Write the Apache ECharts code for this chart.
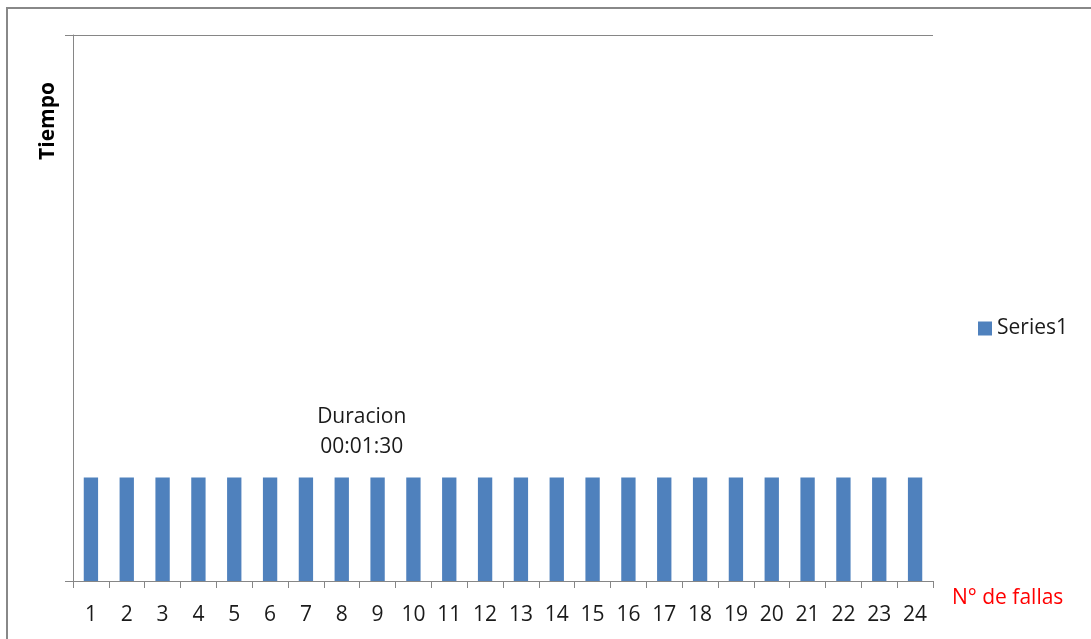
<!DOCTYPE html>
<html>
<head>
<meta charset="utf-8">
<script src="https://cdn.jsdelivr.net/npm/echarts@6/dist/echarts.min.js"></script>
<style>
  html, body { margin: 0; padding: 0; background: #fff; }
  #chart { width: 1091px; height: 639px; }
</style>
</head>
<body>
<div id="chart"></div>
<script>
// Fault number on the x axis, duration (seconds) on the y axis
const categories = ['1','2','3','4','5','6','7','8','9','10','11','12','13','14','15','16','17','18','19','20','21','22','23','24'];
const durations = [90,90,90,90,90,90,90,90,90,90,90,90,90,90,90,90,90,90,90,90,90,90,90,90];
const seriesName = 'Series1';
const labelledIndex = 7;
const axisMax = 475;

const FONT = '"Open Sans", sans-serif';
const FS = 21;

function toClock(sec) {
  const h = Math.floor(sec / 3600), m = Math.floor((sec % 3600) / 60), s = sec % 60;
  const p = n => String(n).padStart(2, '0');
  return p(h) + ':' + p(m) + ':' + p(s);
}

const barData = durations.map((v, i) => {
  if (i !== labelledIndex) return v;
  return {
    value: v,
    label: {
      show: true,
      position: 'top',
      distance: 16,
      offset: [20, 0],
      formatter: p => 'Duracion\n' + toClock(p.value),
      fontFamily: FONT,
      fontSize: FS,
      lineHeight: 30,
      color: '#1a1a1a'
    }
  };
});

const chart = echarts.init(document.getElementById('chart'));
chart.setOption({
  animation: false,
  grid: { left: 73, top: 35, right: 158, bottom: 58 },
  legend: {
    orient: 'vertical',
    left: 973,
    top: 313,
    itemWidth: 14,
    itemHeight: 14,
    itemGap: 6,
    icon: 'rect',
    textStyle: { fontFamily: FONT, fontSize: FS, color: '#1a1a1a' },
    data: [seriesName]
  },
  xAxis: {
    type: 'category',
    data: categories,
    name: 'N° de fallas',
    nameLocation: 'end',
    nameGap: 19,
    nameTextStyle: { fontFamily: FONT, fontSize: FS, color: '#ff0000', verticalAlign: 'top', padding: [7, 0, 0, 0] },
    axisLine: { lineStyle: { color: '#868686', width: 1 } },
    axisTick: { show: true, length: 7, lineStyle: { color: '#868686' } },
    axisLabel: { fontFamily: FONT, fontSize: FS, color: '#1a1a1a', margin: 24, interval: 0 }
  },
  yAxis: {
    type: 'value',
    min: 0,
    max: axisMax,
    interval: axisMax,
    axisLine: { show: true, lineStyle: { color: '#868686', width: 1 } },
    axisTick: { show: true, length: 8, lineStyle: { color: '#868686' } },
    axisLabel: { show: false },
    splitLine: { show: true, lineStyle: { color: '#868686', width: 1 } }
  },
  graphic: [
    {
      type: 'rect',
      shape: { x: 7, y: 8, width: 1300, height: 1000 },
      style: { fill: 'none', stroke: '#888888', lineWidth: 2 },
      silent: true
    },
    {
      type: 'text',
      x: 48,
      y: 121,
      rotation: Math.PI / 2,
      style: {
        text: 'Tiempo',
        fontFamily: FONT,
        fontSize: FS,
        fontWeight: 'bold',
        fill: '#000',
        align: 'center',
        verticalAlign: 'middle'
      }
    }
  ],
  series: [{
    name: seriesName,
    type: 'bar',
    data: barData,
    barWidth: '40%',
    itemStyle: { color: '#4F81BD' }
  }]
});
</script>
</body>
</html>
